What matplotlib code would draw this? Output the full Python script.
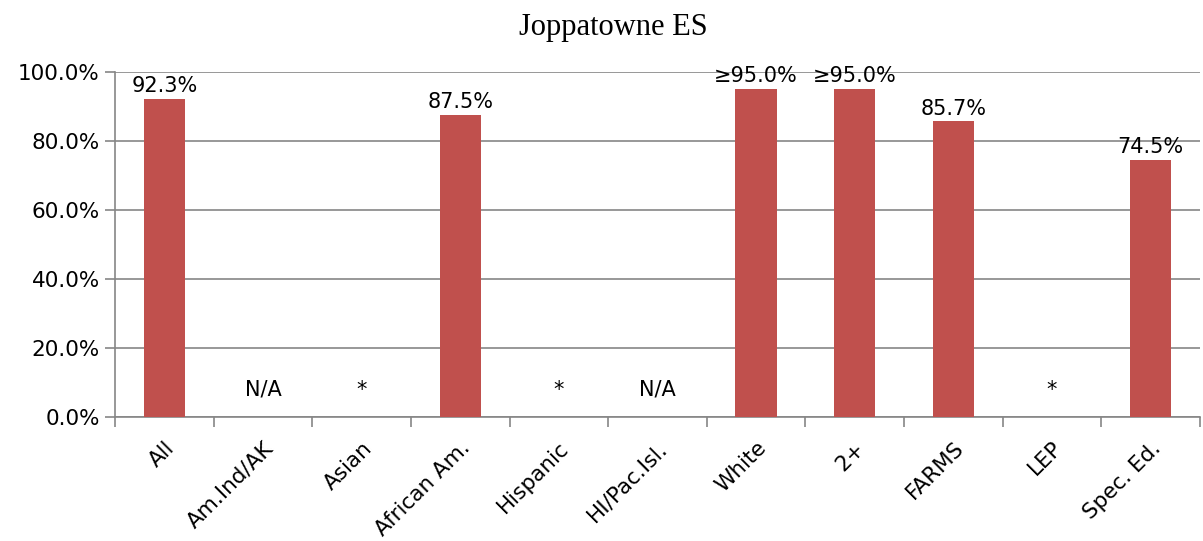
import matplotlib
matplotlib.use("Agg")
import matplotlib.pyplot as plt
import numpy as np

categories = ["All", "Am.Ind/AK", "Asian", "African Am.", "Hispanic", "HI/Pac.Isl.",
              "White", "2+", "FARMS", "LEP", "Spec. Ed."]
values = [92.3, 0, 0, 87.5, 0, 0, 95.0, 95.0, 85.7, 0, 74.5]
labels = ["92.3%", "N/A", "*", "87.5%", "*", "N/A", "≥95.0%", "≥95.0%", "85.7%", "*", "74.5%"]
yticks = [0, 20, 40, 60, 80, 100]
title = "Joppatowne ES"

plt.rcParams['font.family'] = ['DejaVu Sans']
fig = plt.figure(figsize=(12.03, 5.41), dpi=100)
ax = fig.add_axes([115/1203, 1-417/541, (1200-115)/1203, (417-72)/541])

x = np.arange(len(categories))
color = "#C0504D"
ax.bar(x, values, width=0.42, color=color, zorder=3)

for xi, v, lab in zip(x, values, labels):
    if v > 0:
        ax.text(xi, v + 0.8, lab, ha="center", va="bottom", fontsize=15, zorder=4)
    else:
        ax.text(xi, 5.0, lab, ha="center", va="bottom", fontsize=15, zorder=4)

ax.set_xlim(-0.5, len(categories) - 0.5)
ax.set_ylim(0, 100)
ax.set_yticks(yticks)
ax.set_yticklabels([f"{t:.1f}%" for t in yticks], fontsize=15.5)
ax.yaxis.grid(True, color="#868686", linewidth=1.2, zorder=0)
ax.set_axisbelow(True)

ax.set_xticks(np.arange(-0.5, len(categories), 1.0), minor=False)
ax.set_xticklabels([])
ax.set_xticks(x, minor=True)
ax.set_xticklabels(categories, minor=True, rotation=45, ha="right", rotation_mode="anchor", fontsize=15.5)
ax.tick_params(axis="x", which="minor", length=0, pad=15)
ax.tick_params(axis="x", which="major", length=7, width=1.2, color="#868686")
ax.tick_params(axis="y", length=7, width=1.2, color="#868686", pad=4)

for s in ["top", "right"]:
    ax.spines[s].set_visible(False)
for s in ["left", "bottom"]:
    ax.spines[s].set_color("#868686")
    ax.spines[s].set_linewidth(1.2)

fig.text(0.5 + 12/1203, 1 - 27/541, title, ha="center", va="center", fontsize=22,
         family=["Liberation Serif"])

fig.savefig("out.png", dpi=100)
